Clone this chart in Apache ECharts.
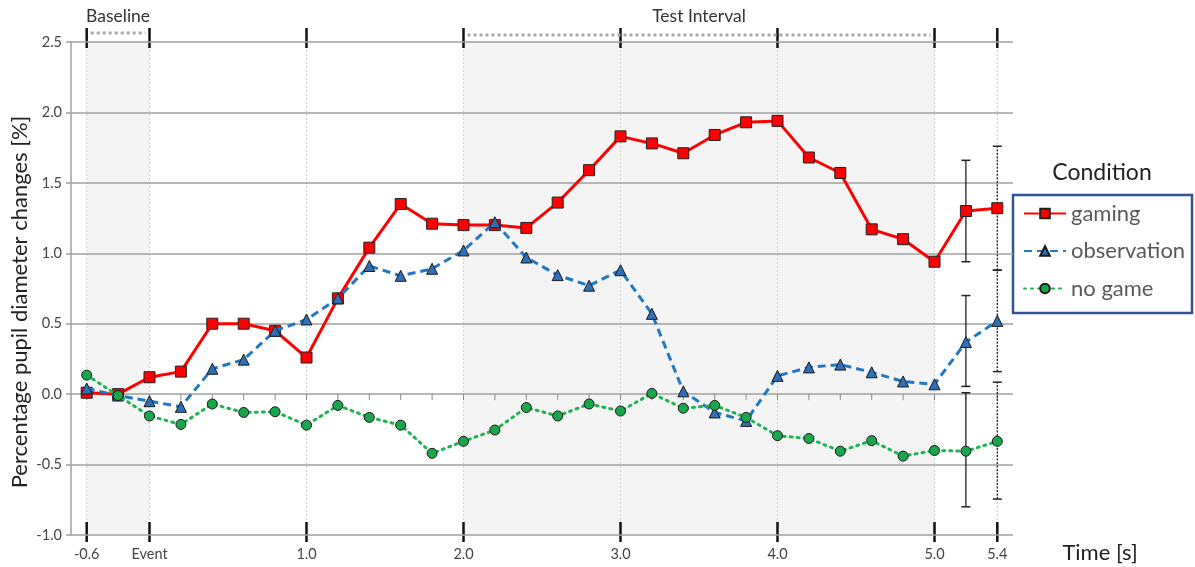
<!DOCTYPE html>
<html>
<head>
<meta charset="utf-8">
<script src="https://cdn.jsdelivr.net/npm/echarts@6/dist/echarts.min.js"></script>
<style>
html,body{margin:0;padding:0;background:#fff;}
#c{width:1195px;height:567px;}
</style>
</head>
<body>
<div id="c"></div>
<script>
// ---- data ----
const categories = ['-0.6','-0.4','Event','0.2','0.4','0.6','0.8','1.0','1.2','1.4','1.6','1.8','2.0','2.2','2.4','2.6','2.8','3.0','3.2','3.4','3.6','3.8','4.0','4.2','4.4','4.6','4.8','5.0','5.2','5.4'];
const labeledTicks = ['-0.6','Event','1.0','2.0','3.0','4.0','5.0','5.4'];
const yTicks = [-1.0,-0.5,0.0,0.5,1.0,1.5,2.0,2.5];

const gaming = [0.01,0.00,0.12,0.16,0.50,0.50,0.45,0.26,0.68,1.04,1.35,1.21,1.20,1.20,1.18,1.36,1.59,1.83,1.78,1.71,1.84,1.93,1.94,1.68,1.57,1.17,1.10,0.94,1.30,1.32];
const observation = [0.04,-0.01,-0.05,-0.09,0.18,0.245,0.45,0.53,0.68,0.91,0.84,0.89,1.02,1.22,0.97,0.845,0.77,0.88,0.57,0.02,-0.13,-0.19,0.13,0.19,0.21,0.155,0.09,0.07,0.37,0.52];
const nogame = [0.135,-0.01,-0.155,-0.215,-0.07,-0.13,-0.125,-0.22,-0.08,-0.165,-0.22,-0.42,-0.335,-0.255,-0.095,-0.155,-0.07,-0.12,0.005,-0.10,-0.08,-0.165,-0.295,-0.315,-0.405,-0.33,-0.44,-0.40,-0.405,-0.335];

// error bars: [index, low, high]
const gamingErr = [[28,0.94,1.66],[29,0.88,1.76]];
const observationErr = [[28,0.055,0.70],[29,0.16,0.88]];
const nogameErr = [[28,-0.80,0.01],[29,-0.745,0.085]];

const intervals = [['Baseline',0,2],['Test Interval',12,27]];

// ---- derived ----
const markerIdx = categories.map((c,i)=>labeledTicks.includes(c)?i:-1).filter(i=>i>=0);
const allIdx = categories.map((c,i)=>i);
const yMin = -1.0, yMax = 2.5;
const FONT = 'Lato, "Open Sans", sans-serif';

const chart = echarts.init(document.getElementById('c'), null, {renderer:'canvas'});

function shadeItem(params, api){
  const p1 = api.coord([api.value(0), yMax]);
  const p2 = api.coord([api.value(1), yMin]);
  return {type:'rect', shape:{x:p1[0], y:p1[1], width:p2[0]-p1[0], height:p2[1]-p1[1]},
    style:{fill:'#f4f4f4'}};
}
function markerItem(params, api){
  const i = api.value(0);
  const top = api.coord([i, yMax]);
  const bot = api.coord([i, yMin]);
  return {type:'group', children:[
    {type:'line', shape:{x1:top[0],y1:top[1],x2:bot[0],y2:bot[1]}, style:{stroke:'#cdcdcd', lineWidth:1, lineDash:[2,2]}},
    {type:'line', shape:{x1:top[0],y1:top[1]-14,x2:top[0],y2:top[1]+6}, style:{stroke:'#111', lineWidth:2.5}},
    {type:'line', shape:{x1:bot[0],y1:bot[1]-13,x2:bot[0],y2:bot[1]+7}, style:{stroke:'#111', lineWidth:2.5}}
  ]};
}
function zeroTickItem(params, api){
  const p = api.coord([api.value(0), 0]);
  return {type:'line', shape:{x1:p[0],y1:p[1],x2:p[0],y2:p[1]+6}, style:{stroke:'#8a8a8a', lineWidth:1}};
}
function intervalItem(params, api){
  const it = intervals[params.dataIndex];
  const a = api.coord([it[1], yMax]);
  const b = api.coord([it[2], yMax]);
  const dy = params.dataIndex===0 ? 9 : 7;
  return {type:'group', children:[
    {type:'line', shape:{x1:a[0]+4,y1:a[1]-dy,x2:b[0]-4,y2:b[1]-dy}, style:{stroke:'#a8a8a8', lineWidth:3, lineDash:[3,3]}},
    {type:'text', x:(a[0]+b[0])/2, y:a[1]-26, style:{text:it[0], fill:'#333', font:'17.5px '+FONT, align:'center', verticalAlign:'middle'}}
  ]};
}
function errItem(params, api){
  const i = api.value(0);
  const lo = api.coord([i, api.value(1)]);
  const hi = api.coord([i, api.value(2)]);
  const dash = i===29 ? [2,1.5] : null;
  return {type:'group', children:[
    {type:'line', shape:{x1:lo[0],y1:lo[1],x2:hi[0],y2:hi[1]}, style:{stroke:'#222', lineWidth:1.3, lineDash:dash}},
    {type:'line', shape:{x1:lo[0]-4.5,y1:lo[1],x2:lo[0]+4.5,y2:lo[1]}, style:{stroke:'#222', lineWidth:1.5}},
    {type:'line', shape:{x1:hi[0]-4.5,y1:hi[1],x2:hi[0]+4.5,y2:hi[1]}, style:{stroke:'#222', lineWidth:1.5}}
  ]};
}

const option = {
  animation:false,
  backgroundColor:'#fff',
  grid:{left:71, right:182, top:42, bottom:32, containLabel:false},
  xAxis:{
    type:'category', data:categories, boundaryGap:true,
    axisLine:{show:false}, axisTick:{show:false}, splitLine:{show:false},
    axisLabel:{interval:0, margin:12, fontSize:14.5, color:'#444', fontFamily:FONT,
      formatter:(v)=>labeledTicks.includes(v)?v:''}
  },
  yAxis:{
    type:'value', min:yMin, max:yMax, interval:0.5, z:3,
    axisLine:{show:true, lineStyle:{color:'#a0a0a0', width:1.5}},
    axisTick:{show:true, length:5, lineStyle:{color:'#a0a0a0', width:1.5}},
    axisLabel:{margin:9, fontSize:14.5, color:'#444', fontFamily:FONT, formatter:(v)=>v.toFixed(1)},
    splitLine:{show:true, lineStyle:{color:'#a0a0a0', width:1.5}}
  },
  legend:{
    data:['gaming','observation','no game'], orient:'vertical',
    left:1023, top:202.5, itemWidth:42, itemHeight:12, itemGap:15.5, padding:0,
    textStyle:{fontSize:22, color:'#595959', fontFamily:FONT}, z:10
  },
  graphic:[
    {type:'rect', z:1, shape:{x:1013, y:195, width:179, height:118}, style:{fill:'#fff', stroke:'#2f5597', lineWidth:2.5}},
    {type:'text', z:2, x:1102, y:173, style:{text:'Condition', font:'23px '+FONT, fill:'#222', align:'center', verticalAlign:'middle'}},
    {type:'text', z:2, x:1100, y:553, style:{text:'Time [s]', font:'22px '+FONT, fill:'#222', align:'center', verticalAlign:'middle'}},
    {type:'text', z:2, x:20, y:302, rotation:Math.PI/2, style:{text:'Percentage pupil diameter changes [%]', font:'22px '+FONT, fill:'#222', align:'center', verticalAlign:'middle'}}
  ],
  series:[
    {type:'custom', name:'shade', z:0, silent:true, renderItem:shadeItem, data:[[0,2],[12,27]]},
    {type:'custom', name:'markers', z:1, silent:true, renderItem:markerItem, data:markerIdx.map(i=>[i])},
    {type:'custom', name:'zeroTicks', z:4, silent:true, renderItem:zeroTickItem, data:allIdx.map(i=>[i])},
    {type:'custom', name:'intervals', z:4, silent:true, renderItem:intervalItem, data:intervals.map((it,k)=>[k])},
    {type:'custom', name:'errG', z:5, silent:true, renderItem:errItem, data:gamingErr},
    {type:'custom', name:'errO', z:5, silent:true, renderItem:errItem, data:observationErr},
    {type:'custom', name:'errN', z:5, silent:true, renderItem:errItem, data:nogameErr},
    {type:'line', name:'gaming', z:6, data:gaming, symbol:'rect', symbolSize:11,
      lineStyle:{color:'#ff0000', width:3},
      itemStyle:{color:'#ff0000', borderColor:'#222', borderWidth:1}},
    {type:'line', name:'observation', z:7, data:observation, symbol:'triangle', symbolSize:11,
      lineStyle:{color:'#1f77c6', width:3, type:[8,5]},
      itemStyle:{color:'#2e70b8', borderColor:'#1a1a1a', borderWidth:1}},
    {type:'line', name:'no game', z:8, data:nogame, symbol:'circle', symbolSize:10,
      lineStyle:{color:'#1cb451', width:3, type:[2,5], cap:'round'},
      itemStyle:{color:'#1aa64b', borderColor:'#1a1a1a', borderWidth:1}}
  ]
};
chart.setOption(option);
</script>
</body>
</html>
